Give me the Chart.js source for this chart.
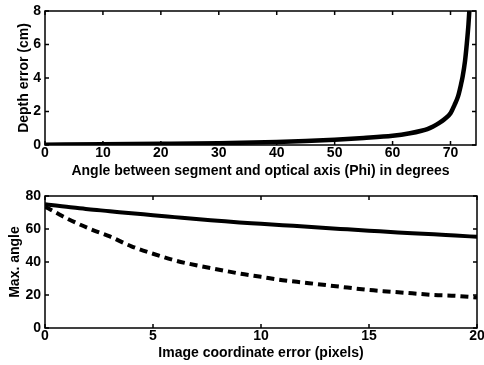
<!DOCTYPE html>
<html>
<head>
<meta charset="utf-8">
<script src="https://cdn.jsdelivr.net/npm/chart.js@4.4.1/dist/chart.umd.min.js"></script>
<style>
  body { margin: 0; background: #fff; }
  .panel { position: absolute; left: 0; }
</style>
</head>
<body>
<div class="panel" style="top:0"><canvas id="depthChart" width="484" height="180"></canvas></div>
<div class="panel" style="top:180px"><canvas id="angleChart" width="484" height="185"></canvas></div>
<script>
// top panel: depth error vs angle
const phiDeg     = [0, 10, 20, 30, 40, 45, 50, 55, 60, 63, 65, 66, 67, 68, 69, 70, 70.7, 71.3, 71.8, 72.1, 72.5, 72.8, 73.1, 73.3];
const depthErrCm = [0.02, 0.04, 0.07, 0.11, 0.18, 0.24, 0.32, 0.42, 0.55, 0.7, 0.85, 0.95, 1.1, 1.3, 1.55, 1.9, 2.4, 2.9, 3.6, 4.1, 5.0, 6.0, 7.2, 8.3];
const phiTicks   = [0, 10, 20, 30, 40, 50, 60, 70];
const depthTicks = [0, 2, 4, 6, 8];

// bottom panel: max angle vs image coordinate error
const pixErr         = [0, 0.5, 1, 2, 3, 4, 5, 6, 7, 8, 9, 10, 11, 12, 13, 14, 15, 16, 17, 18, 19, 20];
const maxAngleSolid  = [75, 74.2, 73.5, 72, 70.8, 69.5, 68.4, 67.2, 66, 65, 64, 63.2, 62.3, 61.5, 60.6, 59.8, 59, 58.2, 57.4, 56.8, 56, 55.3];
const maxAngleDashed = [73.5, 70, 66.5, 60.5, 55.5, 49.5, 45, 41, 38, 35.5, 33, 31, 29, 27.5, 26, 24.5, 23, 22, 21, 20, 19.5, 18.5];
const pixTicks   = [0, 5, 10, 15, 20];
const angleTicks = [0, 20, 40, 60, 80];

Chart.defaults.font.family = '"Liberation Sans", Arial, Helvetica, sans-serif';
Chart.defaults.font.size = 14;
Chart.defaults.font.weight = 'bold';
Chart.defaults.color = '#000';

// matlab style box with inward ticks on all sides
const frame = {
    id: 'frame',
    afterDatasetsDraw(chart) {
        const { ctx, chartArea: a, scales: { x, y } } = chart;
        ctx.save();
        ctx.strokeStyle = '#000';
        ctx.lineWidth = 1.5;
        ctx.strokeRect(a.left, a.top, a.right - a.left, a.bottom - a.top);
        ctx.beginPath();
        x.ticks.forEach(t => {
            const px = x.getPixelForValue(t.value);
            ctx.moveTo(px, a.bottom); ctx.lineTo(px, a.bottom - 4);
            ctx.moveTo(px, a.top); ctx.lineTo(px, a.top + 4);
        });
        y.ticks.forEach(t => {
            const py = y.getPixelForValue(t.value);
            ctx.moveTo(a.left, py); ctx.lineTo(a.left + 4, py);
            ctx.moveTo(a.right, py); ctx.lineTo(a.right - 4, py);
        });
        ctx.stroke();
        ctx.restore();
    }
};

function toPoints(xs, ys) {
    return xs.map((v, i) => ({ x: v, y: ys[i] }));
}

function axes(opts) {
    return {
        x: {
            type: 'linear', min: opts.xMin, max: opts.xMax,
            afterBuildTicks: s => { s.ticks = opts.xTicks.map(v => ({ value: v })); },
            afterFit: s => { s.height = opts.xHeight; s.paddingLeft = 0; s.paddingRight = 0; },
            grid: { display: false, drawTicks: false },
            border: { display: false },
            ticks: { padding: 0, maxRotation: 0 },
            title: { display: true, text: opts.xTitle, padding: { top: 0, bottom: opts.xTitlePad } }
        },
        y: {
            type: 'linear', min: opts.yMin, max: opts.yMax,
            afterBuildTicks: s => { s.ticks = opts.yTicks.map(v => ({ value: v })); },
            afterFit: s => { s.width = 45; s.paddingTop = 0; s.paddingBottom = 0; },
            grid: { display: false, drawTicks: false },
            border: { display: false },
            ticks: { padding: 4 },
            title: { display: true, text: opts.yTitle, padding: { top: opts.yTitlePad, bottom: 0 } }
        }
    };
}

new Chart(document.getElementById('depthChart'), {
    type: 'line',
    data: {
        datasets: [{
            data: toPoints(phiDeg, depthErrCm),
            borderColor: '#000',
            borderWidth: 4.5,
            pointRadius: 0,
            cubicInterpolationMode: 'monotone',
            clip: 0
        }]
    },
    options: {
        responsive: false,
        animation: false,
        layout: { padding: { top: 11, right: 8, left: 0, bottom: 0 } },
        plugins: { legend: { display: false }, tooltip: { enabled: false } },
        scales: axes({
            xMin: 0, xMax: 74.4, xTicks: phiTicks, xHeight: 35,
            xTitle: 'Angle between segment and optical axis (Phi) in degrees', xTitlePad: 0,
            yMin: 0, yMax: 8, yTicks: depthTicks,
            yTitle: 'Depth error (cm)', yTitlePad: 16
        })
    },
    plugins: [frame]
});

new Chart(document.getElementById('angleChart'), {
    type: 'line',
    data: {
        datasets: [{
            data: toPoints(pixErr, maxAngleSolid),
            borderColor: '#000',
            borderWidth: 4,
            pointRadius: 0,
            cubicInterpolationMode: 'monotone',
            clip: 0
        }, {
            data: toPoints(pixErr, maxAngleDashed),
            borderColor: '#000',
            borderWidth: 4,
            borderDash: [8, 5],
            pointRadius: 0,
            cubicInterpolationMode: 'monotone',
            clip: 0
        }]
    },
    options: {
        responsive: false,
        animation: false,
        layout: { padding: { top: 16, right: 7, left: 0, bottom: 0 } },
        plugins: { legend: { display: false }, tooltip: { enabled: false } },
        scales: axes({
            xMin: 0, xMax: 20, xTicks: pixTicks, xHeight: 37,
            xTitle: 'Image coordinate error (pixels)', xTitlePad: 3,
            yMin: 0, yMax: 80, yTicks: angleTicks,
            yTitle: 'Max. angle', yTitlePad: 7
        })
    },
    plugins: [frame]
});
</script>
</body>
</html>
